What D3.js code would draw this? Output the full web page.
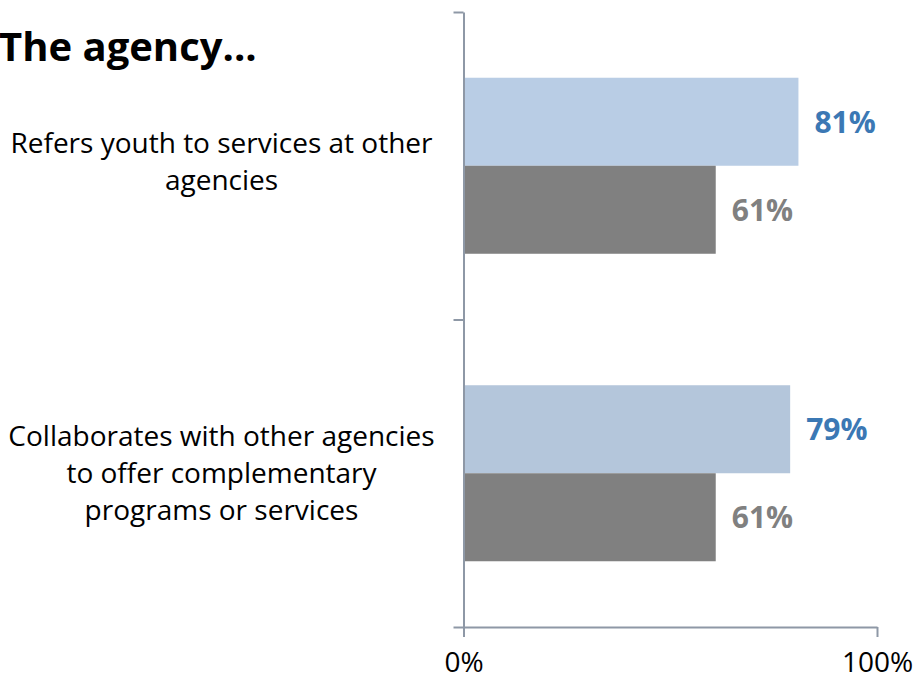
<!DOCTYPE html>
<html>
<head>
<meta charset="utf-8">
<script src="https://cdn.jsdelivr.net/npm/d3@7"></script>
<style>
  html, body { margin: 0; padding: 0; background: #fff; }
  svg { display: block; font-family: "Open Sans", sans-serif; }
</style>
</head>
<body>
<svg id="chart" width="918" height="679"></svg>
<script>
// Share of agencies doing each activity, two survey groups
const categories = [
  ["Refers youth to services at other", "agencies"],
  ["Collaborates with other agencies", "to offer complementary", "programs or services"]
];
const seriesNames = ["group1", "group2"];
const group1Values = [0.81, 0.79];
const group2Values = [0.61, 0.61];
const tickValues = [0, 1];
const title = "The agency...";

const svg = d3.select("#chart");
const plot = { left: 463.5, right: 877, top: 12, bottom: 627 };

const x = d3.scaleLinear().domain([0, 1]).range([plot.left, plot.right]);
const y = d3.scaleBand()
  .domain(d3.range(categories.length))
  .range([plot.top, plot.bottom])
  .paddingInner(0).paddingOuter(0);
const ySeries = d3.scaleBand()
  .domain(seriesNames)
  .range([0, y.bandwidth()])
  .paddingInner(0).paddingOuter(0.747);

const barFill = [["#B9CDE5", "#B4C6DB"], ["#808080", "#808080"]];
const labelFill = ["#3B78B4", "#808080"];
const axisColor = "#8E98A6";

const rows = categories.map((c, i) => ({
  i,
  values: [group1Values[i], group2Values[i]]
}));

// Bars
const groups = svg.append("g").selectAll("g")
  .data(rows).join("g")
  .attr("transform", d => `translate(0,${y(d.i)})`);

groups.selectAll("rect")
  .data(d => d.values.map((v, s) => ({ v, s, i: d.i })))
  .join("rect")
  .attr("x", x(0))
  .attr("y", d => ySeries(seriesNames[d.s]))
  .attr("width", d => x(d.v) - x(0))
  .attr("height", ySeries.bandwidth())
  .attr("fill", d => barFill[d.s][d.i]);

// Value labels
groups.selectAll("text")
  .data(d => d.values.map((v, s) => ({ v, s })))
  .join("text")
  .attr("x", d => x(d.v) + 16)
  .attr("y", d => ySeries(seriesNames[d.s]) + ySeries.bandwidth() / 2)
  .attr("dy", "0.36em")
  .attr("font-size", 30)
  .attr("font-weight", 700)
  .attr("fill", d => labelFill[d.s])
  .text(d => d3.format(".0%")(d.v));

// Left category axis: tick marks at band boundaries
const boundary = d3.scaleLinear()
  .domain([0, categories.length])
  .range([plot.top, plot.bottom]);
const leftAxis = svg.append("g")
  .attr("transform", `translate(${plot.left},0)`)
  .call(d3.axisLeft(boundary)
    .tickValues(d3.range(categories.length + 1))
    .tickFormat("")
    .tickSizeInner(10).tickSizeOuter(0));

// Bottom value axis
const bottomAxis = svg.append("g")
  .attr("transform", `translate(0,${plot.bottom})`)
  .call(d3.axisBottom(x)
    .tickValues(tickValues)
    .tickFormat(d3.format(".0%"))
    .tickSizeInner(10).tickSizeOuter(0)
    .tickPadding(15));

[leftAxis, bottomAxis].forEach(a => {
  a.selectAll("path, line").attr("stroke", axisColor).attr("stroke-width", 2);
});
bottomAxis.selectAll("text")
  .attr("font-size", 28)
  .attr("font-family", "Open Sans, sans-serif")
  .attr("fill", "#000")
  .attr("dy", "0.71em");

// Category labels, centred in the space left of the axis
const lineH = 37;
const labelShift = [6, 10];
const catLabels = svg.append("g").selectAll("text")
  .data(categories.map((lines, i) => ({ lines, i })))
  .join("text")
  .attr("text-anchor", "middle")
  .attr("font-size", 28)
  .attr("fill", "#000");
catLabels.selectAll("tspan")
  .data(d => d.lines.map((t, k) => ({ t, k, n: d.lines.length, i: d.i })))
  .join("tspan")
  .attr("x", 221.5)
  .attr("y", d => y(d.i) + y.bandwidth() / 2 + labelShift[d.i] + (d.k - (d.n - 1) / 2) * lineH)
  .text(d => d.t);

// Title
svg.append("text")
  .attr("x", -1)
  .attr("y", 61)
  .attr("font-size", 40)
  .attr("font-weight", 700)
  .attr("fill", "#000")
  .text(title);
</script>
</body>
</html>
